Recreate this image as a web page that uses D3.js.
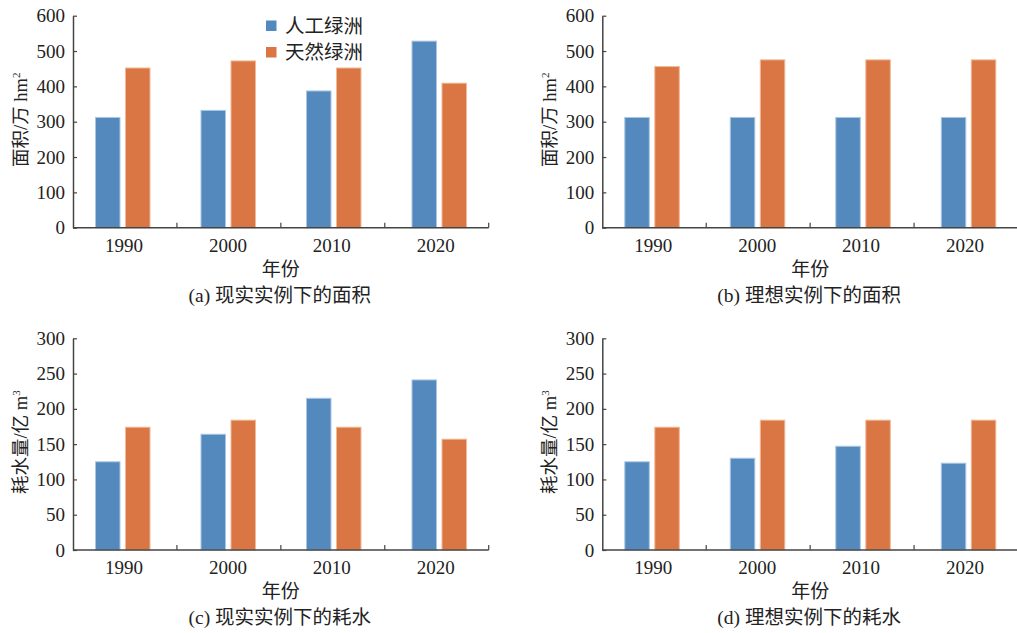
<!DOCTYPE html>
<html>
<head>
<meta charset="utf-8">
<script src="https://cdn.jsdelivr.net/npm/d3@7"></script>
<style>
  body { margin: 0; background: #fff; }
  svg { display: block; }
  text { font-family: "Liberation Serif", "Noto Sans CJK SC", serif; fill: #222; }
</style>
</head>
<body>
<svg id="chart" width="1017" height="633"></svg>
<script>
const years = ["1990", "2000", "2010", "2020"];
const seriesNames = ["人工绿洲", "天然绿洲"];
const colors = ["#5489bd", "#d97644"];
const strokes = ["#a9c6e4", "#f2b896"];

// area, 万 hm2
const areaRealArtificial = [312, 332, 387, 528];
const areaRealNatural = [452, 472, 452, 409];
const areaIdealArtificial = [312, 312, 312, 312];
const areaIdealNatural = [456, 475, 475, 475];

// water use, 亿 m3
const waterRealArtificial = [125, 164, 215, 241];
const waterRealNatural = [174, 184, 174, 157];
const waterIdealArtificial = [125, 130, 147, 123];
const waterIdealNatural = [174, 184, 184, 184];

const areaTicks = [0, 100, 200, 300, 400, 500, 600];
const waterTicks = [0, 50, 100, 150, 200, 250, 300];

const panels = [
    { x0: 73, top: 15.7, bottom: 227.7, max: 600, ticks: areaTicks, ylab: ["面积/万 hm", "2"],
      data: [areaRealArtificial, areaRealNatural], caption: "(a) 现实实例下的面积", legend: true },
    { x0: 602.3, top: 15.7, bottom: 227.7, max: 600, ticks: areaTicks, ylab: ["面积/万 hm", "2"],
      data: [areaIdealArtificial, areaIdealNatural], caption: "(b) 理想实例下的面积" },
    { x0: 73, top: 338.3, bottom: 550, max: 300, ticks: waterTicks, ylab: ["耗水量/亿 m", "3"],
      data: [waterRealArtificial, waterRealNatural], caption: "(c) 现实实例下的耗水" },
    { x0: 602.3, top: 338.3, bottom: 550, max: 300, ticks: waterTicks, ylab: ["耗水量/亿 m", "3"],
      data: [waterIdealArtificial, waterIdealNatural], caption: "(d) 理想实例下的耗水" }
];

const svg = d3.select("#chart");
const axisW = 415.7;
const axisColor = "#444";

panels.forEach(p => {
    const g = svg.append("g").attr("transform", `translate(${p.x0},0)`);

    const x = d3.scaleBand().domain(years).range([0, axisW]);
    // bar groups sit on a slightly wider pitch than the tick bands
    const xb = d3.scaleBand().domain(years).range([-3, 419]);
    const y = d3.scaleLinear().domain([0, p.max]).range([p.bottom, p.top]);
    const barW = 24.5, gap = 5.5;

    p.data.forEach((vals, si) => {
        g.append("g").selectAll("rect")
            .data(vals)
            .enter().append("rect")
            .attr("x", (d, i) => xb(years[i]) + xb.bandwidth() / 2 - barW - gap / 2 + si * (barW + gap))
            .attr("y", d => y(d))
            .attr("width", barW)
            .attr("height", d => p.bottom - y(d))
            .attr("fill", colors[si])
            .attr("stroke", strokes[si])
            .attr("stroke-width", 1);
    });

    // y axis
    const ya = g.append("g")
        .call(d3.axisLeft(y).tickValues(p.ticks).tickSizeInner(-4).tickSizeOuter(0).tickPadding(8));
    ya.select(".domain").attr("stroke", axisColor).attr("stroke-width", 1.5);
    ya.selectAll(".tick line").attr("stroke", axisColor).attr("stroke-width", 1.2);
    ya.selectAll(".tick text").attr("font-size", 19).attr("fill", "#222")
        .style("font-family", "'Liberation Serif', serif");

    // x axis: ticks between categories, pointing up
    const xa = g.append("g").attr("transform", `translate(0,${p.bottom})`);
    xa.append("line").attr("x1", 0).attr("x2", axisW).attr("stroke", axisColor).attr("stroke-width", 1.5);
    xa.selectAll("line.tk")
        .data(years)
        .enter().append("line")
        .attr("class", "tk")
        .attr("x1", d => x(d) + x.bandwidth()).attr("x2", d => x(d) + x.bandwidth())
        .attr("y1", 0).attr("y2", -5)
        .attr("stroke", axisColor).attr("stroke-width", 1.2);
    xa.selectAll("text")
        .data(years)
        .enter().append("text")
        .attr("x", d => x(d) + x.bandwidth() / 2 - 1)
        .attr("y", 24)
        .attr("text-anchor", "middle")
        .attr("font-size", 19)
        .text(d => d);

    // axis titles and caption
    g.append("text")
        .attr("x", axisW / 2).attr("y", p.bottom + 48)
        .attr("text-anchor", "middle").attr("font-size", 19)
        .text("年份");
    g.append("text")
        .attr("x", axisW / 2 - 1).attr("y", p.bottom + 74)
        .attr("text-anchor", "middle").attr("font-size", 19.5)
        .text(p.caption);

    const yl = g.append("text")
        .attr("transform", `translate(-46,${(p.top + p.bottom) / 2 - 2}) rotate(-90)`)
        .attr("text-anchor", "middle").attr("font-size", 18.5);
    yl.append("tspan").text(p.ylab[0]);
    yl.append("tspan").attr("font-size", 11).attr("dy", -7).text(p.ylab[1]);

    if (p.legend) {
        const lg = g.append("g").attr("transform", `translate(${266 - p.x0},0)`);
        seriesNames.forEach((name, i) => {
            lg.append("rect")
                .attr("x", 0).attr("y", 20.5 + i * 26.5)
                .attr("width", 10.5).attr("height", 10.5)
                .attr("fill", colors[i]);
            lg.append("text")
                .attr("x", 19).attr("y", 32.5 + i * 26.5)
                .attr("font-size", 19.5)
                .text(name);
        });
    }
});
</script>
</body>
</html>
